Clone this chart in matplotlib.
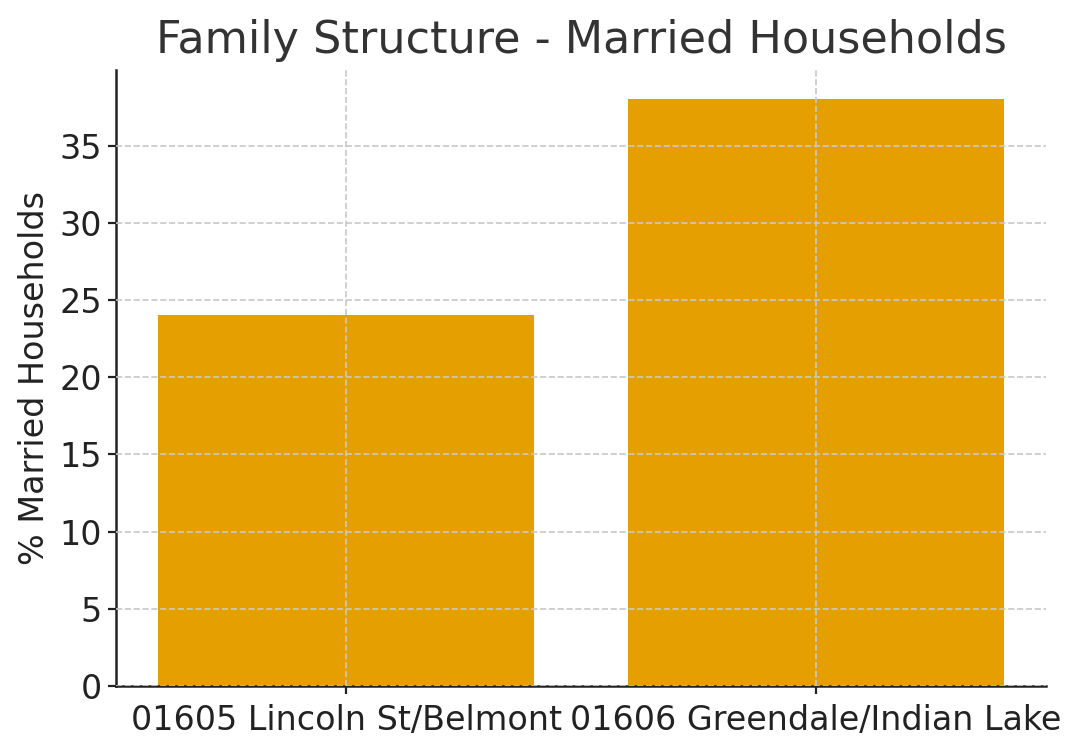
import matplotlib
matplotlib.use('Agg')
import matplotlib.pyplot as plt

# Datos
zonas = ['01605 Lincoln St/Belmont', '01606 Greendale/Indian Lake']
porcentaje_casados = [24, 38]

fig, ax = plt.subplots(figsize=(5.405, 3.745), dpi=200)
fig.subplots_adjust(left=0.1073, right=0.9676, top=0.9065, bottom=0.0841)

ax.bar(zonas, porcentaje_casados, color='#E69F00', width=0.8, zorder=0)

ax.set_title('Family Structure - Married Households', fontsize=16, color='#333333', pad=6)
ax.set_ylabel('% Married Households', fontsize=12, color='#222222', labelpad=3)
ax.tick_params(axis='both', labelsize=12, colors='#222222', length=3)
ax.tick_params(axis='y', pad=2)
ax.grid(True, linestyle='--', color='#c8c8c8', linewidth=0.6, zorder=1)
ax.set_axisbelow(False)
for s in ['top', 'right']:
    ax.spines[s].set_visible(False)
for s in ['left', 'bottom']:
    ax.spines[s].set_linewidth(0.9)
    ax.spines[s].set_color('#222222')

plt.savefig('out.png', dpi=200)
